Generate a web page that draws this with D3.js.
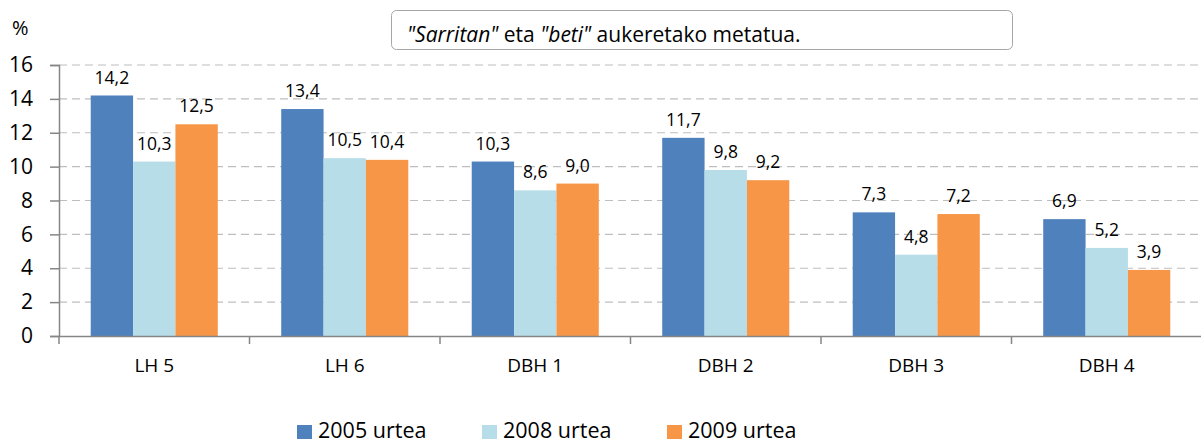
<!DOCTYPE html>
<html>
<head>
<meta charset="utf-8">
<script src="https://cdn.jsdelivr.net/npm/d3@7"></script>
<style>
  body { margin: 0; background: #fff; }
  text { font-family: "Open Sans", "Liberation Sans", Arial, sans-serif; fill: #000; }
</style>
</head>
<body>
<div id="chart"></div>
<script>
// chart data
var categories = ["LH 5", "LH 6", "DBH 1", "DBH 2", "DBH 3", "DBH 4"];
var seriesNames = ["2005 urtea", "2008 urtea", "2009 urtea"];
var values2005 = [14.2, 13.4, 10.3, 11.7, 7.3, 6.9];
var values2008 = [10.3, 10.5, 8.6, 9.8, 4.8, 5.2];
var values2009 = [12.5, 10.4, 9.0, 9.2, 7.2, 3.9];
var yTicks = [0, 2, 4, 6, 8, 10, 12, 14, 16];
var colors = ["#4F81BD", "#B7DEE8", "#F79646"];

var svgWidth = 1201;
var svgHeight = 445;
var margin = { top: 65, right: 0, bottom: 109, left: 59 };
var width = 1143;
var height = svgHeight - margin.top - margin.bottom;
var fontFam = "Open Sans, Liberation Sans, Arial, sans-serif";

var svg = d3.select("#chart").append("svg")
  .attr("width", svgWidth)
  .attr("height", svgHeight);

var chartGroup = svg.append("g")
  .attr("transform", `translate(${margin.left}, ${margin.top})`);

var x0 = d3.scaleBand()
  .domain(categories)
  .range([0, width]);

// bars take two thirds of each category, centred
var x1 = d3.scaleBand()
  .domain(seriesNames)
  .range([x0.bandwidth() * 0.1665, x0.bandwidth() * 0.8335]);

var y = d3.scaleLinear()
  .domain([0, 16])
  .range([height, 0]);

// gridlines
chartGroup.append("g")
  .selectAll("line")
  .data(yTicks.filter(d => d > 0))
  .enter().append("line")
  .attr("x1", 0)
  .attr("x2", width)
  .attr("y1", d => y(d))
  .attr("y2", d => y(d))
  .attr("stroke", "#BEBEBE")
  .attr("stroke-width", 1.2)
  .attr("stroke-dasharray", "8,5");

// bars
var rows = categories.map((c, i) => ({
  cat: c,
  vals: [values2005[i], values2008[i], values2009[i]]
}));

var groups = chartGroup.selectAll(".grp")
  .data(rows)
  .enter().append("g")
  .attr("class", "grp")
  .attr("transform", d => `translate(${x0(d.cat)}, 0)`);

groups.selectAll("rect")
  .data(d => d.vals.map((v, j) => ({ s: seriesNames[j], v: v, j: j })))
  .enter().append("rect")
  .attr("x", d => x1(d.s))
  .attr("y", d => y(d.v))
  .attr("width", x1.bandwidth())
  .attr("height", d => height - y(d.v))
  .attr("fill", d => colors[d.j]);

groups.selectAll(".lbl")
  .data(d => d.vals.map((v, j) => ({ s: seriesNames[j], v: v, j: j })))
  .enter().append("text")
  .attr("class", "lbl")
  .attr("x", d => x1(d.s) + x1.bandwidth() / 2)
  .attr("y", d => y(d.v) - 12)
  .attr("text-anchor", "middle")
  .attr("font-size", 17.5)
  .text(d => d3.format(".1f")(d.v).replace(".", ","));

// y axis
var leftAxis = d3.axisLeft(y).tickValues(yTicks).tickSize(9).tickPadding(17);
var yAxisG = chartGroup.append("g").call(leftAxis);
yAxisG.select(".domain").attr("stroke", "#868686").attr("stroke-width", 1.5);
yAxisG.selectAll(".tick line").attr("stroke", "#868686").attr("stroke-width", 1.5);
yAxisG.selectAll(".tick text")
  .attr("font-size", 21)
  .attr("font-family", fontFam)
  .attr("fill", "#000");

// x axis
var bottomAxis = d3.axisBottom(x0).tickSize(0).tickPadding(23);
var xAxisG = chartGroup.append("g")
  .attr("transform", `translate(0, ${height})`)
  .call(bottomAxis);
xAxisG.select(".domain").attr("stroke", "#868686").attr("stroke-width", 1.5);
xAxisG.selectAll(".tick text")
  .attr("font-size", 19)
  .attr("font-family", fontFam)
  .attr("fill", "#000");
// category separators
xAxisG.append("g")
  .selectAll("line")
  .data(categories)
  .enter().append("line")
  .attr("x1", d => x0(d))
  .attr("x2", d => x0(d))
  .attr("y1", 0)
  .attr("y2", 8)
  .attr("stroke", "#868686")
  .attr("stroke-width", 1.5);

// unit label
svg.append("text")
  .attr("x", 12)
  .attr("y", 35)
  .attr("font-size", 20)
  .text("%");

// note box
svg.append("rect")
  .attr("x", 391.5)
  .attr("y", 10.5)
  .attr("width", 621)
  .attr("height", 39)
  .attr("rx", 5)
  .attr("fill", "#fff")
  .attr("stroke", "#A6A6A6");

var note = svg.append("text")
  .attr("x", 407)
  .attr("y", 42)
  .attr("font-size", 21);
note.append("tspan").attr("font-style", "italic").text("\"Sarritan\"");
note.append("tspan").text(" eta ");
note.append("tspan").attr("font-style", "italic").text("\"beti\"");
note.append("tspan").text(" aukeretako metatua.");

// legend
var legend = svg.append("g")
  .selectAll("g")
  .data(seriesNames)
  .enter().append("g")
  .attr("transform", (d, i) => `translate(${297 + i * 185}, 0)`);

legend.append("rect")
  .attr("x", 0)
  .attr("y", 425)
  .attr("width", 15)
  .attr("height", 14)
  .attr("fill", (d, i) => colors[i]);

legend.append("text")
  .attr("x", 21)
  .attr("y", 438)
  .attr("font-size", 21.5)
  .text(d => d);
</script>
</body>
</html>
